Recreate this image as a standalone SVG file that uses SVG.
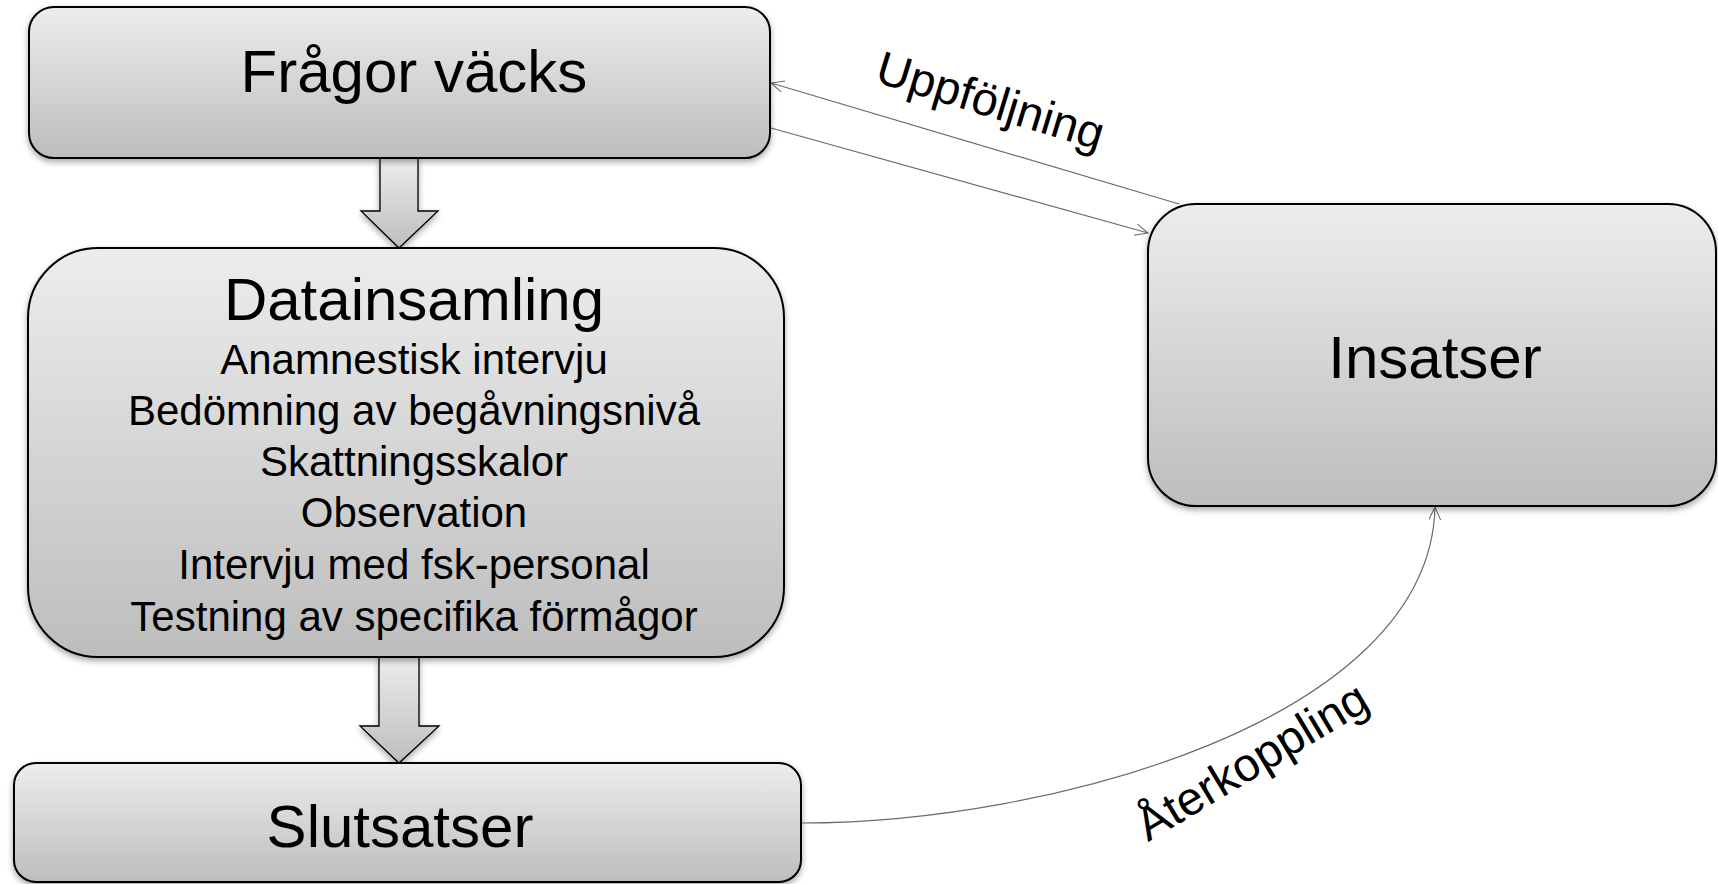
<svg xmlns="http://www.w3.org/2000/svg" width="1718" height="884" viewBox="0 0 1718 884">
<defs>
<linearGradient id="g" x1="0" y1="0" x2="0" y2="1">
<stop offset="0" stop-color="#ededed"/>
<stop offset="1" stop-color="#bdbdbd"/>
</linearGradient>
<filter id="sh" x="-5%" y="-10%" width="110%" height="125%">
<feDropShadow dx="0" dy="3" stdDeviation="3" flood-color="#000" flood-opacity="0.35"/>
</filter>
<marker id="ah" markerUnits="userSpaceOnUse" markerWidth="20" markerHeight="16" refX="13" refY="6" orient="auto">
<path d="M0,0 L13,6 L0,12" fill="none" stroke="#666" stroke-width="1"/>
</marker>
</defs>
<style>
.box{fill:url(#g);stroke:#000;stroke-width:2;filter:url(#sh)}
.arr{fill:url(#g);stroke:#000;stroke-width:1.3;filter:url(#sh)}
.t{font-family:"Liberation Sans",Arial,sans-serif;fill:#000;text-anchor:middle}
.big{font-size:60px}
.sm{font-size:42px}
.lbl{font-size:47px}
.con{fill:none;stroke:#6a6a6a;stroke-width:1.2;marker-end:url(#ah)}
</style>
<rect width="1718" height="884" fill="#fff"/>

<g id="connectors">
<path class="con" d="M1179,204 L771,83"/>
<path class="con" d="M771,128 L1148,233"/>
<path class="con" d="M801,823 C1050,823 1430,720 1435,507"/>
<text class="t lbl" transform="translate(986,116) rotate(17)">Uppföljning</text>
<text class="t lbl" transform="translate(1260,775) rotate(-31)">Återkoppling</text>
</g>

<g id="arrow1">
<path class="arr" d="M380,158 L418,158 L418,211 L438,211 L399,248 L361,211 L380,211 Z"/>
</g>
<g id="arrow2">
<path class="arr" d="M379,657 L419,657 L419,726 L439,726 L399,763 L360,726 L379,726 Z"/>
</g>

<g id="fragor">
<rect class="box" x="29" y="7" width="741" height="151" rx="25" ry="25"/>
<text class="t big" x="414" y="92">Frågor väcks</text>
</g>

<g id="datainsamling">
<rect class="box" x="28" y="248" width="756" height="409" rx="70" ry="70"/>
<text class="t big" x="414" y="320">Datainsamling</text>
<text class="t sm" x="414" y="374">Anamnestisk intervju</text>
<text class="t sm" x="414" y="425">Bedömning av begåvningsnivå</text>
<text class="t sm" x="414" y="476">Skattningsskalor</text>
<text class="t sm" x="414" y="527">Observation</text>
<text class="t sm" x="414" y="579">Intervju med fsk-personal</text>
<text class="t sm" x="414" y="631">Testning av specifika förmågor</text>
</g>

<g id="slutsatser">
<rect class="box" x="14" y="763" width="787" height="119" rx="22" ry="22"/>
<text class="t big" x="400" y="847">Slutsatser</text>
</g>

<g id="insatser">
<rect class="box" x="1148" y="204" width="568" height="302" rx="48" ry="48"/>
<text class="t big" x="1435" y="378">Insatser</text>
</g>
</svg>
